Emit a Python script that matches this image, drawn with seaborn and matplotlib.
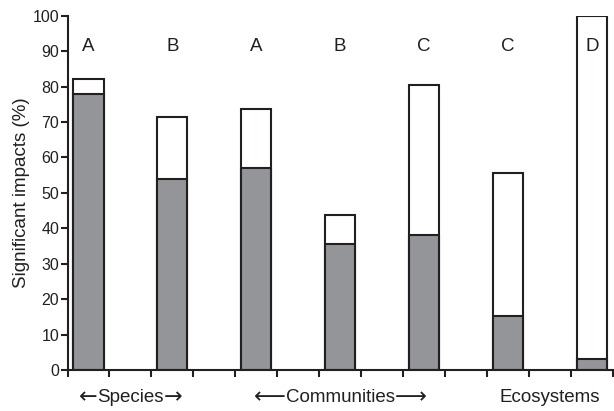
import numpy as np
import pandas as pd
import matplotlib
matplotlib.use("Agg")
import matplotlib.pyplot as plt
import seaborn as sns

# Values
letters = ["A", "B", "A", "B", "C", "C", "D"]
significant = [78, 54, 57, 35.5, 38, 15.3, 3]
total = [82, 71.5, 73.6, 43.7, 80.4, 55.7, 100]
group_words = ["Species", "Communities", "Ecosystems"]
group_arrows = [("\u2190", "\u2192"), ("\u27f5", "\u27f6"), ("", "")]
group_centres = [1, 6, 11]
yticks = list(range(0, 101, 10))

sns.set_style("ticks")
plt.rcParams["font.family"] = ["Liberation Sans", "DejaVu Sans"]

text_col = "#231f20"
gray = "#939598"

# bars sit on every second slot of a 13-slot category axis
pos = np.arange(len(total)) * 2
df = pd.DataFrame({"pos": pos, "total": total, "significant": significant})

fig = plt.figure(figsize=(6.14, 4.11), dpi=100)
ax = fig.add_axes([0.110, 0.0998, 0.888, 0.862])

sns.barplot(data=df, x="pos", y="total", native_scale=True, width=0.36,
            color="white", edgecolor=text_col, linewidth=1.5,
            saturation=1, errorbar=None, ax=ax)
sns.barplot(data=df, x="pos", y="significant", native_scale=True, width=0.36,
            color=gray, edgecolor=text_col, linewidth=1.5,
            saturation=1, errorbar=None, ax=ax)

ax.set_xlim(-0.5, 12.5)
ax.set_ylim(0, 100)
ax.set_xticks(np.arange(-0.5, 13, 1))
ax.set_xticklabels([])
ax.set_yticks(yticks)
ax.set_yticklabels([str(t) for t in yticks], fontsize=11.5, color=text_col)
ax.tick_params(axis="both", direction="out", length=5, width=1.5, color=text_col, pad=1)
ax.set_xlabel("")
ax.set_ylabel("Significant impacts (%)", fontsize=13.5, color=text_col, labelpad=2)

for s in ["top", "right"]:
    ax.spines[s].set_visible(False)
for s in ["left", "bottom"]:
    ax.spines[s].set_linewidth(1.5)
    ax.spines[s].set_color(text_col)

for p, letter in zip(pos, letters):
    ax.text(p, 91.3, letter, ha="center", va="center", fontsize=13.5, color=text_col)

# group labels under the axis, with arrows drawn in DejaVu Sans beside the word
trans = ax.get_xaxis_transform()
for c, word, (la, ra) in zip(group_centres, group_words, group_arrows):
    t = ax.text(c, -0.078, word, transform=trans, ha="center", va="center",
                fontsize=13.5, color=text_col, clip_on=False)
    if la:
        ax.annotate(la, xy=(0, 0.5), xycoords=t, ha="right", va="center",
                    fontsize=16, color=text_col, family="DejaVu Sans")
        ax.annotate(ra, xy=(1, 0.5), xycoords=t, ha="left", va="center",
                    fontsize=16, color=text_col, family="DejaVu Sans")

fig.savefig("out.png", dpi=100)
